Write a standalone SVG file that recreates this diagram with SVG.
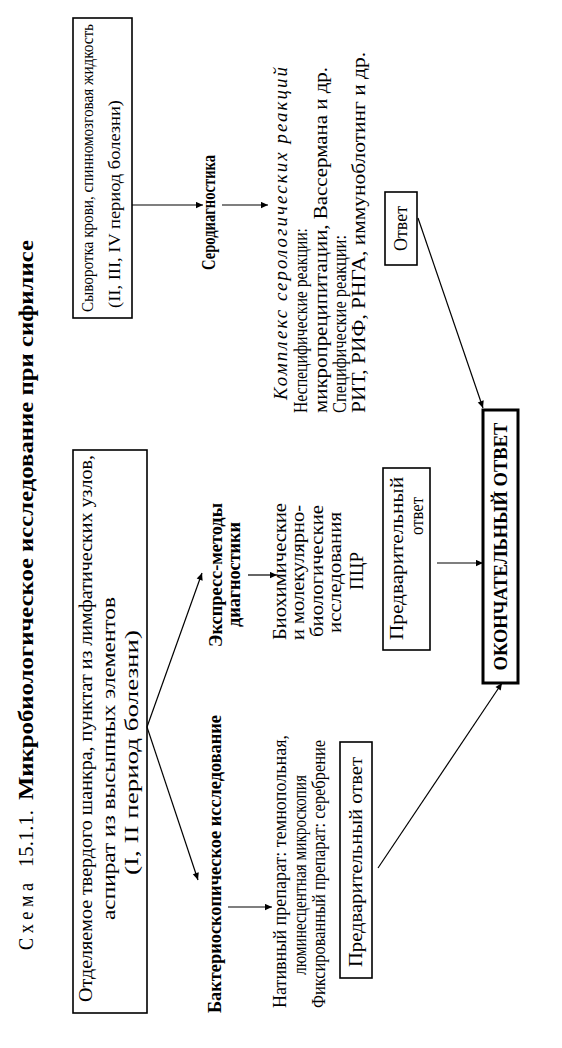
<svg xmlns="http://www.w3.org/2000/svg" width="562" height="1048" viewBox="0 0 562 1048">
<defs>
<marker id="ah" viewBox="0 0 10 10" refX="10" refY="5" markerWidth="9" markerHeight="7" markerUnits="userSpaceOnUse" orient="auto"><path d="M0,0.5 L10,5 L0,9.5 z" fill="#000"/></marker>
</defs>
<style>
text{font-family:"Liberation Serif","Times New Roman",serif;fill:#000;font-size:18px}
.t{font-size:20px}
.s{font-size:16px}
.m{font-size:19px}
.b{font-weight:bold}
.i{font-style:italic}
.c{text-anchor:middle}
.box{fill:#fff;stroke:#000;stroke-width:1.6}
.fin{fill:#fff;stroke:#000;stroke-width:3}
.ln{stroke:#000;stroke-width:1.2;fill:none}
.arr{marker-end:url(#ah)}
</style>
<rect width="562" height="1048" fill="#fff"/>
<g transform="translate(0,1048) rotate(-90)" font-family="'Liberation Serif', serif">
  <g id="title">
    <text class="t" x="98" y="33" textLength="67" lengthAdjust="spacingAndGlyphs">С х е м а</text>
    <text class="t" x="181" y="33" textLength="57" lengthAdjust="spacingAndGlyphs">15.1.1.</text>
    <text class="t b" x="248" y="33" textLength="560" lengthAdjust="spacingAndGlyphs">Микробиологическое исследование при сифилисе</text>
  </g>
  <g id="source-chancre">
    <rect class="box" x="35" y="73" width="563" height="74"/>
    <text class="m" x="46" y="92" textLength="547" lengthAdjust="spacingAndGlyphs">Отделяемое твердого шанкра, пунктат из лимфатических узлов,</text>
    <text class="m" x="128" y="115" textLength="323" lengthAdjust="spacingAndGlyphs">аспират из высыпных элементов</text>
    <text class="m" x="173" y="138" textLength="245" lengthAdjust="spacingAndGlyphs">(I, II период болезни)</text>
  </g>
  <g id="source-serum">
    <rect class="box" x="730" y="73" width="300" height="59"/>
    <text class="s" x="736" y="93" textLength="288" lengthAdjust="spacingAndGlyphs">Сыворотка крови, спинномозговая жидкость</text>
    <text class="s" x="740" y="120" textLength="208" lengthAdjust="spacingAndGlyphs">(II, III, IV период болезни)</text>
  </g>
  <g id="bacterio">
    <text class="b" x="35" y="221" textLength="298" lengthAdjust="spacingAndGlyphs">Бактериоскопическое исследование</text>
  </g>
  <g id="express">
    <text class="b" x="401" y="222" textLength="144" lengthAdjust="spacingAndGlyphs">Экспресс-методы</text>
    <text class="b" x="421" y="240" textLength="105" lengthAdjust="spacingAndGlyphs">диагностики</text>
  </g>
  <g id="serodiag">
    <text class="b" x="778" y="215" textLength="115" lengthAdjust="spacingAndGlyphs">Серодиагностика</text>
  </g>
  <g id="native">
    <text x="40" y="286" textLength="273" lengthAdjust="spacingAndGlyphs">Нативный препарат: темнопольная,</text>
    <text x="73" y="306" textLength="200" lengthAdjust="spacingAndGlyphs">люминесцентная микроскопия</text>
    <text x="40" y="325" textLength="268" lengthAdjust="spacingAndGlyphs">Фиксированный препарат: серебрение</text>
  </g>
  <g id="prelim1">
    <rect class="box" x="70" y="340" width="236" height="32"/>
    <text x="81" y="362" textLength="210" lengthAdjust="spacingAndGlyphs">Предварительный ответ</text>
  </g>
  <g id="biochem">
    <text x="408" y="286" textLength="137" lengthAdjust="spacingAndGlyphs">Биохимические</text>
    <text x="408" y="304" textLength="135" lengthAdjust="spacingAndGlyphs">и молекулярно-</text>
    <text x="411" y="323" textLength="132" lengthAdjust="spacingAndGlyphs">биологические</text>
    <text x="415" y="341" textLength="121" lengthAdjust="spacingAndGlyphs">исследования</text>
    <text x="458" y="363" textLength="38" lengthAdjust="spacingAndGlyphs">ПЦР</text>
  </g>
  <g id="prelim2">
    <rect class="box" x="398" y="383" width="182" height="47"/>
    <text x="408" y="403" textLength="163" lengthAdjust="spacingAndGlyphs">Предварительный</text>
    <text x="513" y="423" textLength="38" lengthAdjust="spacingAndGlyphs">ответ</text>
  </g>
  <g id="serology">
    <text class="i" x="648" y="287" textLength="335" lengthAdjust="spacingAndGlyphs" letter-spacing="2">Комплекс серологических реакций</text>
    <text x="635" y="307" textLength="185" lengthAdjust="spacingAndGlyphs">Неспецифические реакции:</text>
    <text x="635" y="327" textLength="346" lengthAdjust="spacingAndGlyphs">микропреципитации,  Вассермана и др.</text>
    <text x="635" y="346" textLength="178" lengthAdjust="spacingAndGlyphs">Специфические реакции:</text>
    <text x="635" y="365" textLength="361" lengthAdjust="spacingAndGlyphs">РИТ, РИФ, РНГА, иммуноблотинг и др.</text>
  </g>
  <g id="answer">
    <rect class="box" x="783" y="385" width="73" height="32"/>
    <text class="c" x="819.5" y="407" textLength="45" lengthAdjust="spacingAndGlyphs">Ответ</text>
  </g>
  <g id="final">
    <rect class="fin" x="365" y="483" width="273" height="35"/>
    <text class="b c" x="501.5" y="507" textLength="248" lengthAdjust="spacingAndGlyphs">ОКОНЧАТЕЛЬНЫЙ ОТВЕТ</text>
  </g>
  <g id="connectors">
    <line class="ln arr" x1="321" y1="147" x2="475" y2="202"/>
    <line class="ln arr" x1="321" y1="147" x2="168" y2="198"/>
    <line class="ln arr" x1="843" y1="132" x2="843" y2="203"/>
    <line class="ln arr" x1="843" y1="222" x2="843" y2="268"/>
    <line class="ln arr" x1="141" y1="228" x2="141" y2="272"/>
    <line class="ln arr" x1="473" y1="248" x2="473" y2="277"/>
    <line class="ln arr" x1="180" y1="378" x2="365" y2="502"/>
    <line class="ln arr" x1="485" y1="437" x2="485" y2="483"/>
    <line class="ln arr" x1="830" y1="418" x2="640" y2="483"/>
  </g>
</g>
</svg>
